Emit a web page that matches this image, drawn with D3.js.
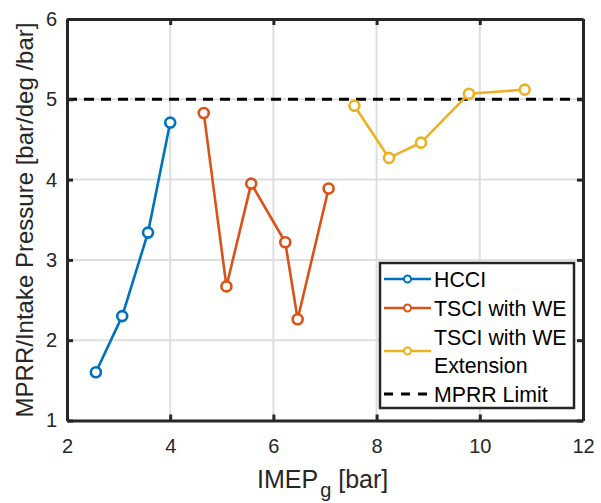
<!DOCTYPE html>
<html>
<head>
<meta charset="utf-8">
<script src="https://cdn.jsdelivr.net/npm/d3@7"></script>
<style>
  html, body { margin: 0; padding: 0; background: #fff; }
  svg { display: block; font-family: "Liberation Sans", Arial, sans-serif; }
</style>
</head>
<body>
<svg id="chart" width="601" height="503"></svg>
<script>
// IMEP_g [bar] vs. MPRR normalised by intake pressure
const hcciX = [2.56, 3.07, 3.57, 4.00];
const hcciY = [1.60, 2.30, 3.34, 4.71];

const tsciX = [4.65, 5.09, 5.57, 6.23, 6.47, 7.07];
const tsciY = [4.83, 2.67, 3.95, 3.22, 2.26, 3.89];

const extX = [7.57, 8.24, 8.86, 9.79, 10.87];
const extY = [4.92, 4.27, 4.46, 5.07, 5.12];

const mprrLimit = 5;

const xTicks = [2, 4, 6, 8, 10, 12];
const yTicks = [1, 2, 3, 4, 5, 6];

const seriesNames = ["HCCI", "TSCI with WE", "TSCI with WE Extension", "MPRR Limit"];
const seriesColors = ["#0072BD", "#D95319", "#EDB120"];

const svg = d3.select("#chart");
const m = { left: 67, top: 19, right: 583, bottom: 420.5 };

const x = d3.scaleLinear().domain([2, 12]).range([m.left, m.right]);
const y = d3.scaleLinear().domain([1, 6]).range([m.bottom, m.top]);

// grid
const grid = svg.append("g").attr("stroke", "#dedede").attr("stroke-width", 2);
grid.selectAll("line.gx").data(xTicks.slice(1, -1)).join("line")
  .attr("x1", d => x(d)).attr("x2", d => x(d))
  .attr("y1", m.top).attr("y2", m.bottom);
grid.selectAll("line.gy").data(yTicks.slice(1, -1)).join("line")
  .attr("x1", m.left).attr("x2", m.right)
  .attr("y1", d => y(d)).attr("y2", d => y(d));

// MPRR limit
svg.append("line")
  .attr("x1", m.left).attr("x2", m.right)
  .attr("y1", y(mprrLimit)).attr("y2", y(mprrLimit))
  .attr("stroke", "#000").attr("stroke-width", 3)
  .attr("stroke-dasharray", "10,7");

// series
const series = [
  { xs: hcciX, ys: hcciY, color: seriesColors[0] },
  { xs: tsciX, ys: tsciY, color: seriesColors[1] },
  { xs: extX, ys: extY, color: seriesColors[2] }
];
const line = d3.line().x(d => x(d[0])).y(d => y(d[1]));
series.forEach(s => {
  const pts = s.xs.map((v, i) => [v, s.ys[i]]);
  svg.append("path").datum(pts)
    .attr("d", line).attr("fill", "none")
    .attr("stroke", s.color).attr("stroke-width", 2.6)
    .attr("stroke-linejoin", "round");
  svg.append("g").selectAll("circle").data(pts).join("circle")
    .attr("cx", d => x(d[0])).attr("cy", d => y(d[1])).attr("r", 5)
    .attr("fill", "#fff").attr("stroke", s.color).attr("stroke-width", 2.6);
});

// axes box and inward ticks
const axisColor = "#262626";
const fmt = d3.format("d");
const bottomAxis = d3.axisBottom(x).tickValues(xTicks).tickFormat(fmt).tickSizeInner(-6).tickSizeOuter(0).tickPadding(18);
const leftAxis = d3.axisLeft(y).tickValues(yTicks).tickFormat(fmt).tickSizeInner(-6).tickSizeOuter(0).tickPadding(10);
const topAxis = d3.axisTop(x).tickValues(xTicks).tickSizeInner(-6).tickSizeOuter(0).tickFormat("");
const rightAxis = d3.axisRight(y).tickValues(yTicks).tickSizeInner(-6).tickSizeOuter(0).tickFormat("");

function styleAxis(g) {
  g.attr("font-size", null).attr("font-family", null);
  g.select(".domain").attr("stroke", axisColor).attr("stroke-width", 3);
  g.selectAll(".tick line").attr("stroke", axisColor).attr("stroke-width", 3);
  g.selectAll(".tick text").attr("fill", "#262626")
    .style("font-size", "20px").style("font-family", "Liberation Sans, Arial, sans-serif");
}
svg.append("g").attr("transform", `translate(0,${m.bottom})`).call(bottomAxis).call(styleAxis);
svg.append("g").attr("transform", `translate(${m.left},0)`).call(leftAxis).call(styleAxis);
svg.append("g").attr("transform", `translate(0,${m.top})`).call(topAxis).call(styleAxis);
svg.append("g").attr("transform", `translate(${m.right},0)`).call(rightAxis).call(styleAxis);

// axis labels
const xl = svg.append("text")
  .attr("x", 257).attr("y", 488)
  .attr("text-anchor", "start").attr("fill", "#262626")
  .style("font-size", "25px");
xl.append("tspan").text("IMEP");
xl.append("tspan").attr("dx", 2).attr("dy", 9).style("font-size", "20px").text("g");
xl.append("tspan").attr("dy", -9).text(" [bar]");

svg.append("text")
  .attr("transform", `translate(33,${220}) rotate(-90)`)
  .attr("text-anchor", "middle").attr("fill", "#262626")
  .style("font-size", "24px")
  .text("MPRR/Intake Pressure [bar/deg /bar]");

// legend
const lg = svg.append("g");
lg.append("rect")
  .attr("x", 380).attr("y", 263).attr("width", 194).attr("height", 145)
  .attr("fill", "#fff").attr("stroke", axisColor).attr("stroke-width", 2.5);

const legendRows = [
  { y: 279, color: seriesColors[0], text: [seriesNames[0]], textY: [279] },
  { y: 308, color: seriesColors[1], text: [seriesNames[1]], textY: [308] },
  { y: 351, color: seriesColors[2], text: ["TSCI with WE", "Extension"], textY: [337, 365] },
  { y: 394, color: "#000", dashed: true, text: [seriesNames[3]], textY: [394] }
];
legendRows.forEach(r => {
  lg.append("line")
    .attr("x1", 384).attr("x2", 431).attr("y1", r.y).attr("y2", r.y)
    .attr("stroke", r.color).attr("stroke-width", r.dashed ? 3 : 2.6)
    .attr("stroke-dasharray", r.dashed ? "9,8" : null);
  if (!r.dashed) {
    lg.append("circle").attr("cx", 407.5).attr("cy", r.y).attr("r", 3.5)
      .attr("fill", "#fff").attr("stroke", r.color).attr("stroke-width", 2);
  }
  r.text.forEach((t, i) => {
    lg.append("text").attr("x", 434).attr("y", r.textY[i])
      .attr("dy", "0.36em").attr("fill", "#000")
      .style("font-size", "21.3px").text(t);
  });
});
</script>
</body>
</html>
